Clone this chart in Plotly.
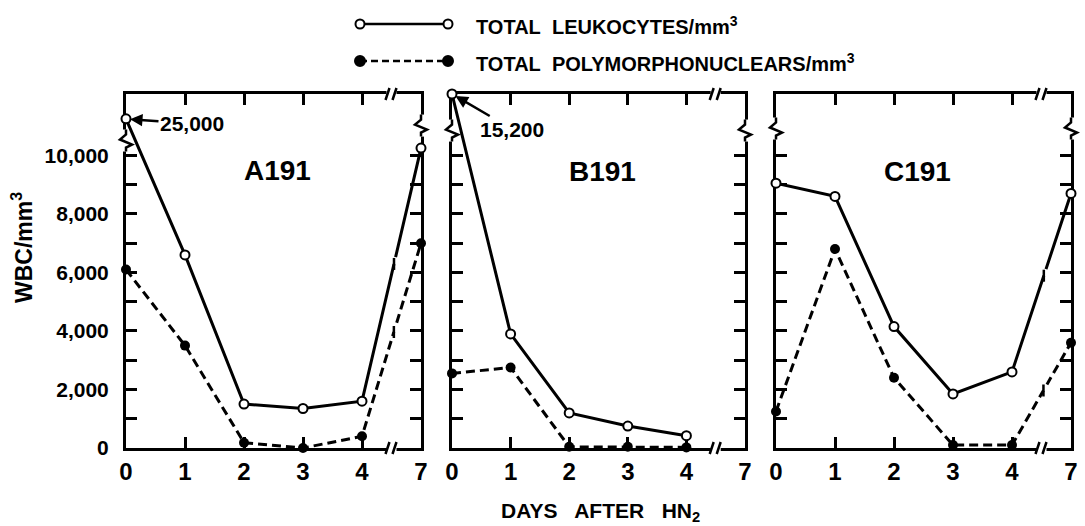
import math
import plotly.graph_objects as go

# ---------------- data ----------------
days = ["0", "1", "2", "3", "4", "7"]
panels = ["A191", "B191", "C191"]

leuk_A = [25000, 6600, 1500, 1350, 1600, 10250]
poly_A = [6100, 3500, 180, 0, 400, 7000]
leuk_B = [15200, 3900, 1200, 750, 420]
poly_B = [2550, 2750, 40, 40, 20]
leuk_C = [9050, 8600, 4150, 1850, 2600, 8700]
poly_C = [1250, 6800, 2400, 100, 100, 3600]

# off-scale values are drawn just above the y-axis break
offscale_pos = [11250, 12100, None]
y_major = list(range(0, 10001, 2000))
y_major_text = [f"{v:,}" for v in y_major]
y_minor = list(range(1000, 10000, 2000))

leuk = [leuk_A, leuk_B, leuk_C]
poly = [poly_A, poly_B, poly_C]

# ---------------- layout geometry ----------------
W, H = 1085, 526
FONT = "Liberation Sans, Arial, DejaVu Sans"
x_px = [(126, 421), (452, 745), (776, 1071)]
y_px = (448, 94)
YMAX = 12100
x_pos = list(range(len(days)))
breaks_y = [(10510, 11020), (10850, 10850), (10920, 10920)]
XBREAK = 4.5


def px(x):
    return x / W


def py(y):
    return 1 - y / H


fig = go.Figure()
shapes = []
annotations = []

for i in range(3):
    sfx = "" if i == 0 else str(i + 1)
    xa, ya = "x" + sfx, "y" + sfx
    cap = offscale_pos[i]

    def disp(v, cap=cap):
        return cap if (cap is not None and v > 10500) else v

    ly = [disp(v) for v in leuk[i]]
    fig.add_trace(go.Scatter(
        x=x_pos[:len(ly)], y=ly, xaxis=xa, yaxis=ya, mode="lines+markers",
        line=dict(color="black", width=3),
        marker=dict(symbol="circle", size=9, color="white",
                    line=dict(color="black", width=2)),
        cliponaxis=False, showlegend=False, name="TOTAL LEUKOCYTES/mm3"))
    fig.add_trace(go.Scatter(
        x=x_pos[:len(poly[i])], y=poly[i], xaxis=xa, yaxis=ya, mode="lines+markers",
        line=dict(color="black", width=3, dash="9px,5px"),
        marker=dict(symbol="circle", size=10, color="black"),
        cliponaxis=False, showlegend=False, name="TOTAL POLYMORPHONUCLEARS/mm3"))

    tickstyle = dict(ticks="inside", ticklen=11, tickwidth=2.5, tickcolor="black")
    fig.update_layout(**{
        ("xaxis" + sfx): dict(
            domain=[px(x_px[i][0]), px(x_px[i][1])], anchor=ya,
            range=[0, 5], tickvals=x_pos, ticktext=days, automargin=False,
            showline=True, linecolor="black", linewidth=3, mirror="ticks",
            showgrid=False, zeroline=False, layer="below traces",
            tickfont=dict(family=FONT, size=24, color="black", weight="bold"),
            **tickstyle,
        ),
        ("yaxis" + sfx): dict(
            domain=[py(y_px[0]), py(y_px[1])], anchor=xa,
            range=[0, YMAX], tickvals=y_major, ticktext=y_major_text,
            minor=dict(tickvals=y_minor, **tickstyle),
            showticklabels=(i == 0), automargin=False, ticklabelstandoff=10,
            showline=True, linecolor="black", linewidth=3, mirror="ticks",
            showgrid=False, zeroline=False, layer="below traces",
            tickfont=dict(family=FONT, size=21, color="black", weight="bold"),
            **tickstyle,
        ),
    })

    # panel label
    annotations.append(dict(
        text=panels[i], xref=xa + " domain", yref=ya + " domain",
        x=[0.512, 0.515, 0.48][i], y=[0.785, 0.78, 0.78][i],
        xanchor="center", yanchor="middle",
        showarrow=False, font=dict(family=FONT, size=28, color="black", weight="bold")))

    # y-axis breaks (zigzags) on left and right frame lines
    for side, yb in zip((0, 1), breaks_y[i]):
        common = dict(type="path", xref=xa + " domain", yref=ya,
                      xsizemode="pixel", ysizemode="pixel",
                      xanchor=side, yanchor=yb, layer="above")
        shapes.append(dict(common, path="M0,-11 L0,11",
                           line=dict(color="white", width=6)))
        shapes.append(dict(common, path="M0,11 L0,6 L-6,1 L6,-4 L0,-7 L0,-11",
                           line=dict(color="black", width=2.5)))
    # x-axis breaks (//) on bottom and top frame lines
    for yb in (0, 1):
        common = dict(type="path", xref=xa, yref=ya + " domain",
                      xsizemode="pixel", ysizemode="pixel",
                      xanchor=XBREAK, yanchor=yb, layer="above")
        shapes.append(dict(common, path="M-5,0 L5,0",
                           line=dict(color="white", width=6)))
        shapes.append(dict(common, path="M-6,-6 L-2,6 M1,-6 L5,6",
                           line=dict(color="black", width=2.5)))

    # break marks on the data lines that cross the day 4 -> day 7 gap
    ppx_x = (x_px[i][1] - x_px[i][0]) / 5.0
    ppx_y = (y_px[0] - y_px[1]) / YMAX
    for series in (leuk[i], poly[i]):
        if len(series) < 6:
            continue
        v4, v5 = disp(series[4]), disp(series[5])
        xb = XBREAK + 0.05
        yb = v4 + (xb - 4) * (v5 - v4)
        dx, dy = ppx_x, (v5 - v4) * ppx_y
        n = math.hypot(dx, dy)
        ux, uy = dx / n, dy / n
        common = dict(type="path", xref=xa, yref=ya,
                      xsizemode="pixel", ysizemode="pixel",
                      xanchor=xb, yanchor=yb, layer="above")
        shapes.append(dict(common,
                           path=f"M{-2*ux:.2f},{-2*uy:.2f} L{5*ux:.2f},{5*uy:.2f}",
                           line=dict(color="white", width=7)))
        bx, by = -2 * ux, -2 * uy
        shapes.append(dict(common,
                           path=f"M{bx:.2f},{by-6:.2f} L{bx:.2f},{by+6:.2f}",
                           line=dict(color="black", width=2.5)))

# off-scale value labels with arrows
annotations.append(dict(
    text="25,000", x=0, y=offscale_pos[0], xref="x", yref="y",
    ax=66, ay=5, showarrow=True, arrowhead=2, arrowsize=1, arrowwidth=2.5,
    arrowcolor="black", standoff=4,
    font=dict(family=FONT, size=21, color="black", weight="bold")))
annotations.append(dict(
    text="15,200", x=0, y=offscale_pos[1], xref="x2", yref="y2",
    ax=60, ay=35, showarrow=True, arrowhead=2, arrowsize=1, arrowwidth=2.5,
    arrowcolor="black", standoff=4,
    font=dict(family=FONT, size=21, color="black", weight="bold")))

# axis titles
annotations.append(dict(
    text="DAYS\u00a0\u00a0 AFTER\u00a0\u00a0 HN<sub>2</sub>", xref="paper", yref="paper",
    x=px(600), y=py(512), xanchor="center", yanchor="middle", showarrow=False,
    font=dict(family=FONT, size=21, color="black", weight="bold")))
annotations.append(dict(
    text="WBC/mm<sup>3</sup>", xref="paper", yref="paper", textangle=-90,
    x=px(22), y=py(248), xanchor="center", yanchor="middle", showarrow=False,
    font=dict(family=FONT, size=23, color="black", weight="bold")))

# hand-drawn legend at top
legend_rows = [("TOTAL\u00a0 LEUKOCYTES/mm<sup>3</sup>", 24, "solid", "white"),
               ("TOTAL\u00a0 POLYMORPHONUCLEARS/mm<sup>3</sup>", 61, "dash", "black")]
for text, yy, dash, fill in legend_rows:
    shapes.append(dict(type="line", xref="paper", yref="paper",
                       x0=px(360), x1=px(448), y0=py(yy), y1=py(yy),
                       line=dict(color="black", width=2.5,
                                 dash="solid" if dash == "solid" else "7px,4px")))
    r = 4.5 if fill == "white" else 5
    for cx in (360, 448):
        shapes.append(dict(type="circle", xref="paper", yref="paper",
                           x0=px(cx - r), x1=px(cx + r), y0=py(yy + r), y1=py(yy - r),
                           fillcolor=fill, line=dict(color="black", width=2)))
    annotations.append(dict(
        text=text, xref="paper", yref="paper", x=px(474), y=py(yy + 1),
        xanchor="left", yanchor="middle", showarrow=False,
        font=dict(family=FONT, size=20, color="black", weight="bold")))

fig.update_layout(
    width=W, height=H, margin=dict(l=0, r=0, t=0, b=0, autoexpand=False),
    paper_bgcolor="white", plot_bgcolor="white",
    shapes=shapes, annotations=annotations, showlegend=False,
)

fig.write_html(
    "out.html",
    config={"displayModeBar": False},
    post_script="document.body.style.margin='0';document.body.style.padding='0';",
)
